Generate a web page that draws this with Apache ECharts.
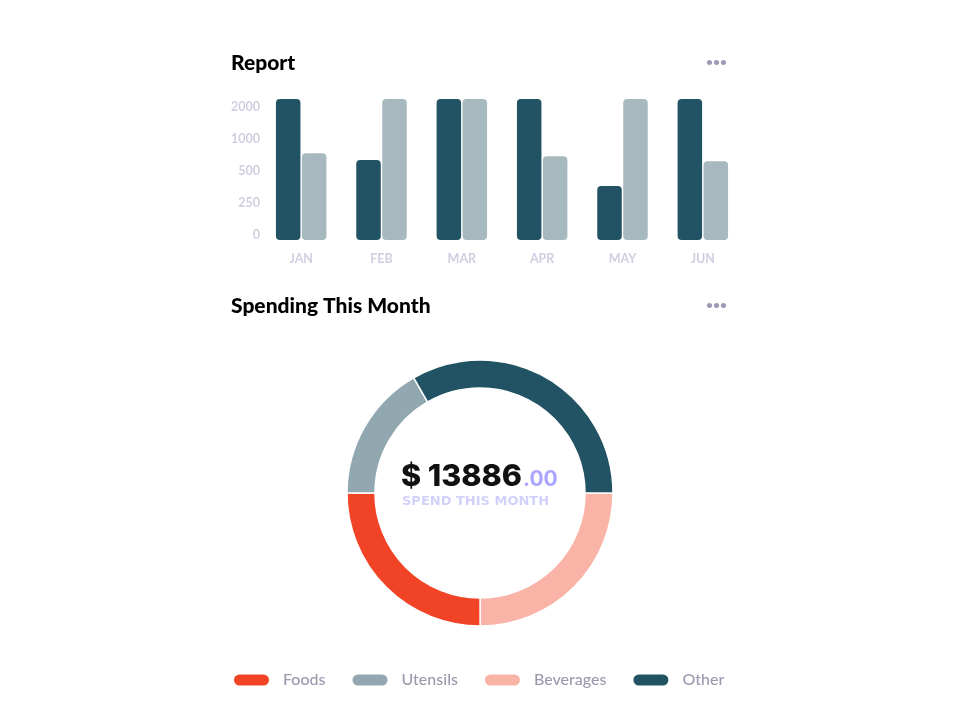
<!DOCTYPE html>
<html>
<head>
<meta charset="utf-8">
<script src="https://cdn.jsdelivr.net/npm/echarts@6/dist/echarts.min.js"></script>
<style>
html,body{margin:0;padding:0;background:#fff;}
#chart{width:960px;height:720px;}
</style>
</head>
<body>
<div id="chart"></div>
<script>
const months = ['JAN','FEB','MAR','APR','MAY','JUN'];
const yTickLabels = ['0','250','500','1000','2000'];
const darkValues = [2600, 700, 2600, 2600, 400, 2600];
const lightValues = [810, 2600, 2600, 760, 2600, 680];
const spendNames = ['Beverages','Foods','Utensils','Other'];
const spendValues = [3470, 3475, 2315, 4626];
const legendOrder = ['Foods','Utensils','Beverages','Other'];

const DARK = '#215364';
const LIGHT = '#A6B9BF';
const spendColors = {Beverages:'#F9B4A7', Foods:'#F14326', Utensils:'#91A8B0', Other:'#215364'};
const total = spendValues.reduce((a,b)=>a+b,0);
const FONT = 'Lato';
const pill = 'path://M6.5,0 H30.5 A6.5,6.5 0 0 1 30.5,13 H6.5 A6.5,6.5 0 0 1 6.5,0 Z';

const chart = echarts.init(document.getElementById('chart'), null, {renderer:'canvas'});
chart.setOption({
  animation: false,
  textStyle: {fontFamily: FONT},
  title: [
    {text:'Report', left:231, top:53, padding:0, textStyle:{fontSize:21, fontWeight:900, color:'#000', fontFamily:FONT}},
    {text:'•••', left:706, top:56, padding:0, textStyle:{fontSize:12, color:'#9D9BB8', fontFamily:FONT}},
    {text:'Spending This Month', left:231, top:296, padding:0, textStyle:{fontSize:21, fontWeight:900, color:'#000', fontFamily:FONT}},
    {text:'•••', left:706, top:299, padding:0, textStyle:{fontSize:12, color:'#9D9BB8', fontFamily:FONT}},
    {text:'{a|$ ' + total + '}{b|.00}', left:401, top:461, padding:0,
      textStyle:{rich:{
        a:{fontSize:30.5, fontWeight:800, color:'#111', fontFamily:'Inter'},
        b:{fontSize:21, fontWeight:700, color:'#A9A6FF', fontFamily:'Inter', padding:[6,0,0,1]}
      }}},
    {text:'SPEND THIS MONTH', left:402, top:495, padding:0, textStyle:{fontSize:13, fontWeight:700, color:'#D3D1FA', fontFamily:'DejaVu Sans'}}
  ],
  grid: [
    {left:261, width:482, top:99, height:141},
    {left:261, width:482, top:107, height:128}
  ],
  xAxis: [
    {type:'category', gridIndex:0, data:months,
      axisLine:{show:false}, axisTick:{show:false},
      axisLabel:{color:'#D0CEE0', fontSize:12.5, fontWeight:700, margin:12, fontFamily:FONT}},
    {type:'value', gridIndex:1, show:false}
  ],
  yAxis: [
    {type:'log', gridIndex:0, logBase:2, min:125, max:2600, show:false, splitLine:{show:false}},
    {type:'category', gridIndex:1, data:yTickLabels, boundaryGap:false,
      axisLine:{show:false}, axisTick:{show:false}, splitLine:{show:false},
      axisLabel:{color:'#D0CEE0', fontSize:12.5, fontWeight:700, margin:1, fontFamily:FONT}}
  ],
  legend: {
    data: legendOrder, left:227, top:667, itemWidth:37, itemHeight:13, itemGap:25,
    icon: pill,
    textStyle:{color:'#9C99AF', fontSize:16, fontWeight:500, fontFamily:FONT, padding:[0,0,0,8]}
  },
  series: [
    {type:'bar', name:'Dark', xAxisIndex:0, yAxisIndex:0, data:darkValues, barWidth:24.5, barGap:'6%',
      clip:true, itemStyle:{color:DARK, borderRadius:4}},
    {type:'bar', name:'Light', xAxisIndex:0, yAxisIndex:0, data:lightValues, barWidth:24.5, barGap:'6%',
      clip:true, itemStyle:{color:LIGHT, borderRadius:4}},
    {type:'pie', center:[480,493], radius:[105,133], startAngle:0, clockwise:true,
      label:{show:false}, labelLine:{show:false}, emphasis:{disabled:true},
      itemStyle:{borderColor:'#fff', borderWidth:1.5},
      data: spendNames.map((n,i)=>({name:n, value:spendValues[i], itemStyle:{color:spendColors[n]}}))}
  ]
});
</script>
</body>
</html>
